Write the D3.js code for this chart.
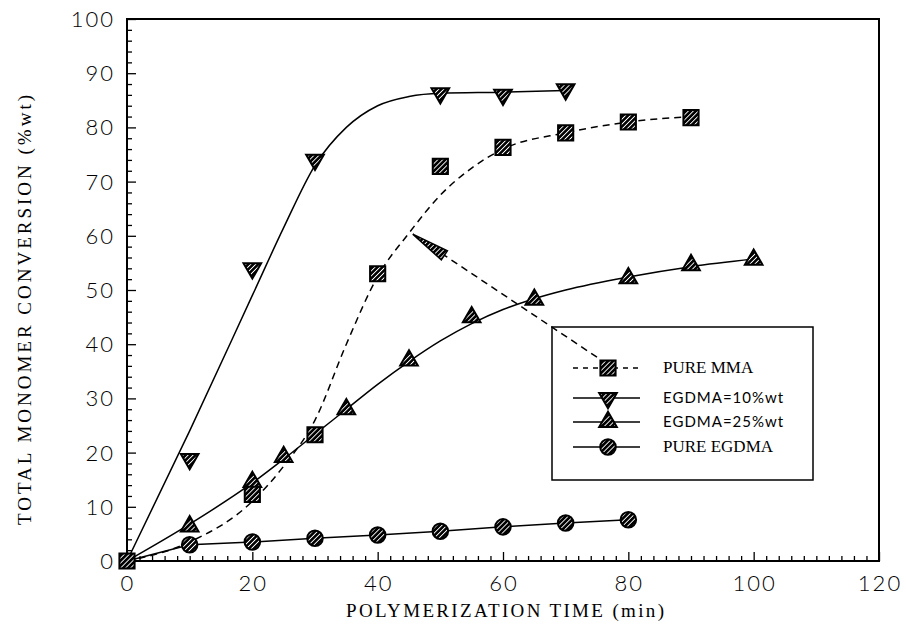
<!DOCTYPE html>
<html>
<head>
<meta charset="utf-8">
<script src="https://cdn.jsdelivr.net/npm/d3@7"></script>
<style>
  body { margin: 0; background: #fff; }
  .tick-label { font-family: Lato, "DejaVu Sans", sans-serif; font-weight: 300; font-size: 22px; letter-spacing: 2px; }
  .title { font-family: "Liberation Serif", "Times New Roman", serif; font-size: 19px; }
</style>
</head>
<body>
<div id="chart"></div>
<script>
// Conversion vs. polymerization time, four monomer mixes

// measured points (markers)
const mmaTime = [0, 20, 30, 40, 50, 60, 70, 80, 90];
const mmaConv = [0, 12.3, 23.3, 53, 72.8, 76.3, 79, 81, 81.8];

const eg10Time = [10, 20, 30, 50, 60, 70];
const eg10Conv = [18.8, 54, 74, 86.3, 86, 87];

const eg25Time = [10, 20, 25, 35, 45, 55, 65, 80, 90, 100];
const eg25Conv = [6.4, 14.6, 19.2, 28, 37, 45, 48.2, 52.2, 54.6, 55.6];

const egTime = [10, 20, 30, 40, 50, 60, 70, 80];
const egConv = [3, 3.5, 4.2, 4.8, 5.5, 6.3, 7, 7.6];

// fitted curves as drawn in the figure
const mmaFitTime = [0, 10, 20, 25, 30, 35, 40, 45, 50, 55, 60, 70, 80, 90];
const mmaFitConv = [0, 3.5, 11, 17.5, 26, 40, 52.5, 60.5, 67.5, 72.5, 76, 79, 81, 82];

const eg10FitTime = [0, 10, 20, 25, 30, 35, 40, 45, 50, 60, 70];
const eg10FitConv = [0, 24, 49, 61.5, 73, 80, 84, 85.7, 86.3, 86.5, 86.8];

const eg25FitTime = [0, 10, 20, 25, 30, 35, 40, 45, 50, 55, 60, 65, 70, 80, 90, 100];
const eg25FitConv = [0, 6.8, 14.4, 18.8, 23.4, 28, 32.6, 36.8, 40.6, 43.8, 46.4, 48.4, 50, 52.4, 54.3, 55.7];

// arrow from legend to the MMA curve (data units)
const arrowFrom = [75, 37.6];
const arrowTo = [45.6, 60.3];

const xTicks = [0, 20, 40, 60, 80, 100, 120];
const yTicks = [0, 10, 20, 30, 40, 50, 60, 70, 80, 90, 100];

const legendNames = ["PURE MMA", "EGDMA=10%wt", "EGDMA=25%wt", "PURE EGDMA"];

const width = 906, height = 635,
    margin = ({top: 19, right: 27, bottom: 74, left: 127});

const svg = d3.select("#chart").append("svg")
    .attr("width", width).attr("height", height)
    .attr("viewBox", [0, 0, width, height]);

const x = d3.scaleLinear().domain([0, 120]).range([margin.left, width - margin.right]);
const y = d3.scaleLinear().domain([0, 100]).range([height - margin.bottom, margin.top]);

// hatch fill for markers
const defs = svg.append("defs");
const pat = defs.append("pattern")
    .attr("id", "hatch").attr("patternUnits", "userSpaceOnUse")
    .attr("width", 3.5).attr("height", 3.5)
    .attr("patternTransform", "rotate(45)");
pat.append("rect").attr("width", 3.5).attr("height", 3.5).attr("fill", "#000");
pat.append("rect").attr("x", 0).attr("width", 0.9).attr("height", 3.5).attr("fill", "#fff");

// frame
svg.append("rect")
    .attr("x", x(0)).attr("y", y(100))
    .attr("width", x(120) - x(0)).attr("height", y(0) - y(100))
    .attr("fill", "none").attr("stroke", "#000").attr("stroke-width", 2);

// axes with inward ticks
const xAxis = g => g
    .attr("transform", `translate(0,${y(0)})`)
    .call(d3.axisTop(x).ticks(60).tickSize(5).tickFormat(""))
    .call(g => g.select(".domain").remove())
    .call(g => g.selectAll(".tick line").attr("stroke-width", 1.3)
        .filter(d => d % 20 === 0).attr("y2", -9));

const yAxis = g => g
    .attr("transform", `translate(${x(0)},0)`)
    .call(d3.axisRight(y).ticks(50).tickSize(5).tickFormat(""))
    .call(g => g.select(".domain").remove())
    .call(g => g.selectAll(".tick line").attr("stroke-width", 1.3)
        .filter(d => Math.round(d) % 10 === 0).attr("x2", 9));

svg.append("g").call(xAxis);
svg.append("g").call(yAxis);

svg.append("g").selectAll("text").data(xTicks).join("text")
    .attr("class", "tick-label")
    .attr("x", d => x(d) + 1).attr("y", y(0) + 30)
    .attr("text-anchor", "middle")
    .text(d => d);

svg.append("g").selectAll("text").data(yTicks).join("text")
    .attr("class", "tick-label")
    .attr("x", x(0) - 12).attr("y", d => y(d) + 8)
    .attr("text-anchor", "end")
    .text(d => d);

svg.append("text").attr("class", "title")
    .attr("x", 505).attr("y", 617)
    .attr("text-anchor", "middle")
    .attr("textLength", 318).attr("lengthAdjust", "spacing")
    .text("POLYMERIZATION TIME (min)");

svg.append("text").attr("class", "title")
    .attr("transform", "translate(31,310) rotate(-90)")
    .attr("text-anchor", "middle")
    .attr("textLength", 430).attr("lengthAdjust", "spacing")
    .text("TOTAL MONOMER CONVERSION (%wt)");

// lines
const zip = (a, b) => a.map((v, i) => [v, b[i]]);
const line = d3.line().x(d => x(d[0])).y(d => y(d[1]));

const curves = svg.append("g").attr("fill", "none").attr("stroke", "#000").attr("stroke-width", 1.5);

curves.append("path")
    .attr("d", line.curve(d3.curveMonotoneX)(zip(mmaFitTime, mmaFitConv)))
    .attr("stroke-dasharray", "7,5");
curves.append("path")
    .attr("d", line.curve(d3.curveMonotoneX)(zip(eg10FitTime, eg10FitConv)));
curves.append("path")
    .attr("d", line.curve(d3.curveMonotoneX)(zip(eg25FitTime, eg25FitConv)));
curves.append("path")
    .attr("d", line.curve(d3.curveLinear)([[0, 0]].concat(zip(egTime, egConv))));

// markers
const symSquare = d3.symbol(d3.symbolSquare, 230);
const symTri = d3.symbol(d3.symbolTriangle, 135);
const symCircle = d3.symbol(d3.symbolCircle, 190);

function markers(times, vals, sym, rot) {
    svg.append("g").selectAll("path").data(zip(times, vals)).join("path")
        .attr("d", sym)
        .attr("transform", d => `translate(${x(d[0])},${y(d[1])}) rotate(${rot})`)
        .attr("fill", "url(#hatch)").attr("stroke", "#000").attr("stroke-width", 2);
}
markers(eg25Time, eg25Conv, symTri, 0);
markers(mmaTime, mmaConv, symSquare, 0);
markers(eg10Time, eg10Conv, symTri, 180);
markers(egTime, egConv, symCircle, 0);

// legend
const lg = svg.append("g");
lg.append("rect")
    .attr("x", 552).attr("y", 327).attr("width", 261).attr("height", 153)
    .attr("fill", "#fff").attr("stroke", "#000").attr("stroke-width", 1.5);

const legSyms = [[symSquare, 0], [symTri, 180], [symTri, 0], [symCircle, 0]];
const legY = [368, 398, 422, 447];
legendNames.forEach((name, i) => {
    const sans = i === 1 || i === 2;
    lg.append("line")
        .attr("x1", 573).attr("x2", 640).attr("y1", legY[i]).attr("y2", legY[i])
        .attr("stroke", "#000").attr("stroke-width", 1.5)
        .attr("stroke-dasharray", i === 0 ? "5,5" : null);
    lg.append("path")
        .attr("d", legSyms[i][0])
        .attr("transform", `translate(608,${legY[i]}) rotate(${legSyms[i][1]})`)
        .attr("fill", "url(#hatch)").attr("stroke", "#000").attr("stroke-width", 2);
    lg.append("text")
        .attr("x", 663).attr("y", legY[i] + 5)
        .style("font-family", sans ? "Lato, 'DejaVu Sans', sans-serif" : "'Liberation Serif', serif")
        .style("font-size", sans ? "15px" : "17px")
        .style("letter-spacing", sans ? "1px" : "0")
        .text(name);
});

// arrow, drawn over the legend box
const ax0 = x(arrowFrom[0]), ay0 = y(arrowFrom[1]), ax1 = x(arrowTo[0]), ay1 = y(arrowTo[1]);
const ang = Math.atan2(ay1 - ay0, ax1 - ax0);
const headLen = 38, headW = 5.5;
const bx = ax1 - headLen * Math.cos(ang), by = ay1 - headLen * Math.sin(ang);
svg.append("line")
    .attr("x1", ax0).attr("y1", ay0).attr("x2", bx).attr("y2", by)
    .attr("stroke", "#000").attr("stroke-width", 1.5).attr("stroke-dasharray", "7,5");
svg.append("path")
    .attr("d", `M${ax1},${ay1}L${bx + headW * Math.sin(ang)},${by - headW * Math.cos(ang)}L${bx - headW * Math.sin(ang)},${by + headW * Math.cos(ang)}Z`)
    .attr("fill", "url(#hatch)").attr("stroke", "#000").attr("stroke-width", 1.5);
</script>
</body>
</html>
